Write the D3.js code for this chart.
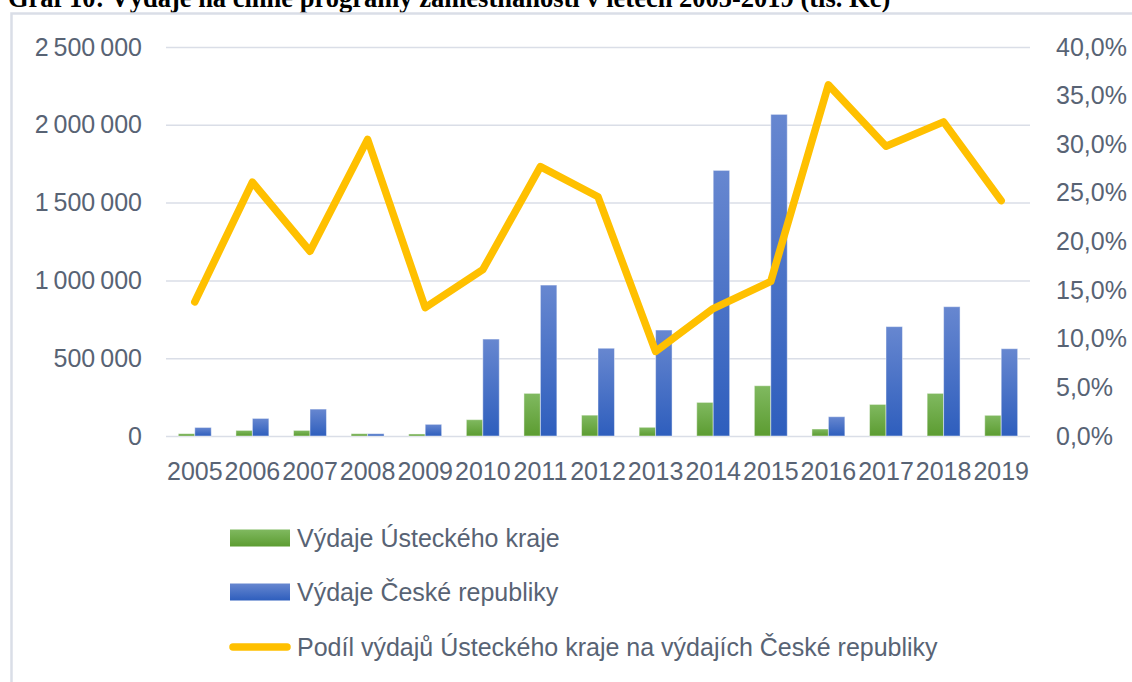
<!DOCTYPE html>
<html>
<head>
<meta charset="utf-8">
<script src="https://cdn.jsdelivr.net/npm/d3@7"></script>
<style>
  html, body { margin: 0; padding: 0; background: #fff; overflow: hidden; }
  svg { display: block; font-family: "Liberation Sans", Arial, sans-serif; }
</style>
</head>
<body>
<svg id="graf" width="1132" height="682"></svg>
<script>
// dados (tis. Kč)
const roky = ["2005","2006","2007","2008","2009","2010","2011","2012","2013","2014","2015","2016","2017","2018","2019"];
const vydaje_kraj = [15000, 36000, 36000, 15000, 13000, 105000, 274000, 134000, 56000, 216000, 323000, 45000, 203000, 274000, 133000];
const vydaje_cr   = [55000, 113000, 173000, 15000, 75000, 623000, 970000, 564000, 681000, 1707000, 2067000, 124000, 703000, 831000, 561000];
const podil       = [0.138, 0.261, 0.190, 0.305, 0.132, 0.171, 0.277, 0.246, 0.087, 0.131, 0.159, 0.361, 0.298, 0.323, 0.242];

const ticks_left  = [0, 500000, 1000000, 1500000, 2000000, 2500000];
const ticks_right = [0, 0.05, 0.10, 0.15, 0.20, 0.25, 0.30, 0.35, 0.40];

const nazvy = ["Výdaje Ústeckého kraje", "Výdaje České republiky",
               "Podíl výdajů Ústeckého kraje na výdajích České republiky"];
const titulek = "Graf 10: Výdaje na činné programy zaměstnanosti v letech 2005-2019 (tis. Kč)";

const TEXT_COLOR = "#586374";
const GRID_COLOR = "#dadee7";
const LINE_COLOR = "#ffc000";

const cz = d3.formatLocale({decimal: ",", thousands: "\u2009", grouping: [3], currency: ["", " Kč"]});
const fmtNum = cz.format(",.0f");
const fmtPct = cz.format(".1%");

const $svg = d3.select("#graf");

// plot area
const P_LEFT = 166, P_RIGHT = 1030, P_TOP = 47, P_BOTTOM = 436;

// gradients
const defs = $svg.append("defs");
const grad = function(id, c1, c2) {
    const g = defs.append("linearGradient").attr("id", id)
        .attr("x1", 0).attr("y1", 0).attr("x2", 0).attr("y2", 1);
    g.append("stop").attr("offset", "0%").attr("stop-color", c1);
    g.append("stop").attr("offset", "100%").attr("stop-color", c2);
}
grad("g-green", "#80b960", "#5c9c31");
grad("g-blue", "#6787d0", "#2e5ebd");

// title (cut at the top like in the reference)
$svg.append("text")
    .attr("x", 8).attr("y", 7)
    .attr("font-family", "'Liberation Serif', 'Times New Roman', serif")
    .attr("font-weight", "bold")
    .attr("font-size", 26.5)
    .attr("fill", "#000")
    .text(titulek);

// chart frame
$svg.append("rect")
    .attr("x", 11.5).attr("y", 13.5)
    .attr("width", 1200).attr("height", 720)
    .attr("fill", "#fff")
    .attr("stroke", GRID_COLOR)
    .attr("stroke-width", 2.5);

// scales
const x = d3.scaleBand().domain(roky).range([P_LEFT, P_RIGHT]).paddingInner(1.5 / 3.5).paddingOuter(0.75 / 3.5);
const xc = d3.scaleBand().domain(roky).range([P_LEFT, P_RIGHT]);
const xs = d3.scaleBand().domain(["kraj", "cr"]).range([0, x.bandwidth()]);
const y = d3.scaleLinear().domain([0, 2500000]).range([P_BOTTOM, P_TOP]);
const y2 = d3.scaleLinear().domain([0, 0.40]).range([P_BOTTOM, P_TOP]);

// left axis + grid
const axL = $svg.append("g")
    .attr("transform", `translate(${P_LEFT},0)`)
    .call(d3.axisLeft(y).tickValues(ticks_left).tickFormat(fmtNum)
          .tickSize(-(P_RIGHT - P_LEFT)).tickPadding(24));
axL.select(".domain").remove();
axL.selectAll(".tick line").attr("stroke", GRID_COLOR).attr("stroke-width", 1.5);
axL.selectAll(".tick text").attr("fill", TEXT_COLOR).attr("font-size", 25)
    .attr("font-family", "'Liberation Sans', Arial, sans-serif");

// right axis
const axR = $svg.append("g")
    .attr("transform", `translate(${P_RIGHT},0)`)
    .call(d3.axisRight(y2).tickValues(ticks_right).tickFormat(fmtPct)
          .tickSize(0).tickPadding(26));
axR.select(".domain").remove();
axR.selectAll(".tick text").attr("fill", TEXT_COLOR).attr("font-size", 25)
    .attr("font-family", "'Liberation Sans', Arial, sans-serif");

// bottom axis
const axB = $svg.append("g")
    .attr("transform", `translate(0,${P_BOTTOM})`)
    .call(d3.axisBottom(xc).tickSize(0).tickPadding(26));
axB.select(".domain").remove();
axB.selectAll(".tick text").attr("fill", TEXT_COLOR).attr("font-size", 25)
    .attr("font-family", "'Liberation Sans', Arial, sans-serif");

// bars
const dados = roky.map((r, i) => ({rok: r, kraj: vydaje_kraj[i], cr: vydaje_cr[i], podil: podil[i]}));

const skup = $svg.append("g").selectAll("g")
    .data(dados).enter().append("g")
    .attr("transform", d => `translate(${x(d.rok)},0)`);

skup.append("rect")
    .attr("x", xs("kraj")).attr("width", xs.bandwidth())
    .attr("y", d => y(d.kraj)).attr("height", d => y(0) - y(d.kraj))
    .attr("fill", "url(#g-green)")
    .attr("stroke", "rgba(255,255,255,0.45)").attr("stroke-width", 1);

skup.append("rect")
    .attr("x", xs("cr")).attr("width", xs.bandwidth())
    .attr("y", d => y(d.cr)).attr("height", d => y(0) - y(d.cr))
    .attr("fill", "url(#g-blue)")
    .attr("stroke", "rgba(255,255,255,0.45)").attr("stroke-width", 1);

// line
const linha = d3.line()
    .x(d => xc(d.rok) + xc.bandwidth() / 2)
    .y(d => y2(d.podil));

$svg.append("path")
    .datum(dados)
    .attr("d", linha)
    .attr("fill", "none")
    .attr("stroke", LINE_COLOR)
    .attr("stroke-width", 7.5)
    .attr("stroke-linejoin", "round")
    .attr("stroke-linecap", "round");

// legend
const leg = $svg.append("g");
const legY = [538, 592, 647];

leg.append("rect").attr("x", 230).attr("y", legY[0] - 8.5).attr("width", 60).attr("height", 17)
    .attr("fill", "url(#g-green)");
leg.append("rect").attr("x", 230).attr("y", legY[1] - 8.5).attr("width", 60).attr("height", 17)
    .attr("fill", "url(#g-blue)");
leg.append("line").attr("x1", 233).attr("x2", 287).attr("y1", legY[2]).attr("y2", legY[2])
    .attr("stroke", LINE_COLOR).attr("stroke-width", 7.5).attr("stroke-linecap", "round");

leg.selectAll("text").data(nazvy).enter().append("text")
    .attr("x", 297)
    .attr("y", (d, i) => legY[i])
    .attr("dy", "0.35em")
    .attr("fill", TEXT_COLOR)
    .attr("font-size", 25)
    .text(d => d);
</script>
</body>
</html>
